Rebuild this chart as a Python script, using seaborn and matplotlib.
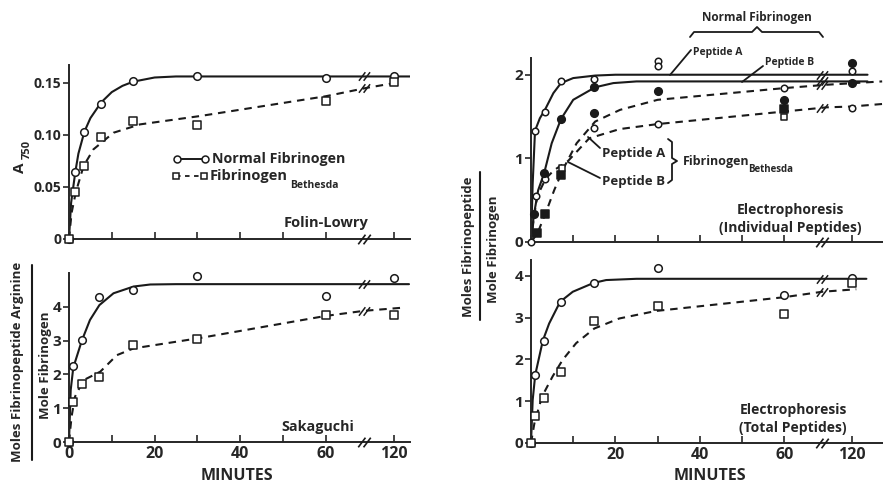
import numpy as np
import pandas as pd
import matplotlib
matplotlib.use("Agg")
import matplotlib.pyplot as plt
import seaborn as sns
from matplotlib.path import Path
from matplotlib.lines import Line2D

# ---------------- data (time in minutes) ----------------
# Top-left: Folin-Lowry (A750)
tl_t = [0, 1.5, 3.5, 7.5, 15, 30, 60, 120]
tl_normal = [0, 0.064, 0.103, 0.130, 0.152, 0.156, 0.155, 0.156]
tl_beth = [0, 0.045, 0.0705, 0.098, 0.113, 0.109, 0.132, 0.151]
tl_fit_normal_t = [0, 0.5, 1.5, 2.2, 3.6, 5, 7.5, 10, 12.5, 15, 20, 25, 30, 60, 134]
tl_fit_normal_y = [0, 0.035, 0.065, 0.082, 0.103, 0.116, 0.131, 0.141, 0.147, 0.151, 0.155, 0.156, 0.156, 0.156, 0.156]
tl_fit_beth_t = [0, 0.6, 1.6, 3.4, 5.7, 10.4, 16.6, 30.6, 60, 95.6, 122]
tl_fit_beth_y = [0, 0.025, 0.045, 0.070, 0.086, 0.102, 0.110, 0.118, 0.137, 0.145, 0.150]

# Bottom-left: Sakaguchi (moles arginine / mole fibrinogen)
bl_t = [0, 1, 3, 7, 15, 30, 60, 120]
bl_normal = [0, 2.25, 3.02, 4.30, 4.50, 4.91, 4.32, 4.86]
bl_beth = [0, 1.19, 1.71, 1.93, 2.87, 3.04, 3.76, 3.76]
bl_fit_normal_t = [0, 0.4, 1, 3, 4.9, 7.1, 10.4, 15.1, 19, 25, 60, 133]
bl_fit_normal_y = [0, 1.54, 2.2, 3.0, 3.61, 4.05, 4.40, 4.60, 4.66, 4.67, 4.67, 4.67]
bl_fit_beth_t = [0, 0.6, 1.4, 3.4, 7.3, 11.2, 15.1, 30.3, 60, 93.4, 126]
bl_fit_beth_y = [0, 0.75, 1.34, 1.83, 2.08, 2.57, 2.77, 3.07, 3.73, 3.88, 3.97]

# Top-right: electrophoresis, individual peptides
tr_open_t = [0, 1, 3.25, 7, 15, 30, 30, 120, 1.25, 3.25, 15, 30, 60, 120]
tr_open_y = [0, 1.33, 1.56, 1.92, 1.95, 2.17, 2.11, 2.04, 0.55, 0.75, 1.36, 1.41, 1.84, 1.60]
tr_fill_t = [0.75, 3.1, 7, 15, 15, 30, 60, 120, 120]
tr_fill_y = [0.33, 0.82, 1.47, 1.85, 1.54, 1.81, 1.70, 2.14, 1.90]
tr_fsq_t = [1.4, 3.3, 7, 60]
tr_fsq_y = [0.11, 0.33, 0.80, 1.59]
tr_osq_t = [7.3, 60]
tr_osq_y = [0.88, 1.49]
tr_fitA_t = [0, 0.4, 0.95, 2.1, 3.3, 5.3, 7.1, 10, 15.2, 20, 60, 134]
tr_fitA_y = [0, 0.70, 1.33, 1.48, 1.58, 1.78, 1.90, 1.96, 1.99, 2.0, 2.0, 2.0]
tr_fitB_t = [0, 0.7, 1.7, 3.1, 4.9, 7.1, 10, 15.2, 19.5, 25, 60, 134]
tr_fitB_y = [0, 0.33, 0.62, 0.82, 1.18, 1.47, 1.70, 1.85, 1.90, 1.92, 1.92, 1.92]
tr_fitBethB_t = [0, 1.5, 3.5, 5.5, 7.7, 10.8, 15.2, 21.1, 30, 60, 97.5, 147]
tr_fitBethB_y = [0, 0.10, 0.35, 0.62, 0.88, 1.18, 1.44, 1.58, 1.70, 1.84, 1.88, 1.92]
tr_fitBethA_t = [0, 0.7, 1.5, 3.5, 5.5, 8.8, 13.8, 21, 30, 60, 97.5, 120, 147]
tr_fitBethA_y = [0, 0.30, 0.55, 0.76, 0.86, 0.97, 1.24, 1.35, 1.41, 1.56, 1.61, 1.62, 1.65]

# Bottom-right: electrophoresis, total peptides
br_t = [0, 1, 3, 7, 15, 30, 60, 120]
br_normal = [0, 1.63, 2.45, 3.38, 3.83, 4.20, 3.54, 3.96]
br_beth = [0, 0.65, 1.07, 1.69, 2.93, 3.28, 3.09, 3.82]
br_fit_normal_t = [0, 0.4, 1.0, 2.8, 4.3, 6.9, 9.9, 14.8, 17.8, 25, 60, 133]
br_fit_normal_y = [0, 1.03, 1.63, 2.45, 2.86, 3.38, 3.62, 3.83, 3.90, 3.93, 3.93, 3.93]
br_fit_beth_t = [0, 0.8, 2.6, 5.1, 7.5, 10.7, 15, 20.9, 29.6, 60, 93.75, 124]
br_fit_beth_y = [0, 0.47, 1.11, 1.59, 1.99, 2.39, 2.74, 2.98, 3.16, 3.49, 3.62, 3.68]

x_major_t = [0, 20, 40, 60, 120]
x_major_labels = ["0", "20", "40", "60", "120"]
x_minor_t = [10, 30, 50]

# ---------------- style ----------------
sns.set_theme(style="ticks")
plt.rcParams["font.family"] = ["Open Sans", "DejaVu Sans"]
plt.rcParams["font.weight"] = "bold"
plt.rcParams["axes.linewidth"] = 1.4

W, H = 883, 487
fig = plt.figure(figsize=(W / 100, H / 100), dpi=100)
fig.patch.set_facecolor("white")


def fx(px):
    return px / W


def fy(py):
    return 1 - py / H


def to_u(t):
    t = np.asarray(t, float)
    return np.where(t <= 60, t, 60 + (t - 60) * 16.0 / 60.0)


BREAK_U = 69.0
brk = Path([(-1.3, -1), (0.2, 1), (-0.2, -1), (1.3, 1)],
           [Path.MOVETO, Path.LINETO, Path.MOVETO, Path.LINETO])
DASH = (0, (3.6, 2.8))


def panel(l, r, top, bot, xmax, ymax, yticks, ylabels, xlabels, ysize=10):
    ax = fig.add_axes([fx(l), fy(bot), (r - l) / W, (bot - top) / H])
    ax.set_facecolor("white")
    ax.set_xlim(0, xmax)
    ax.set_ylim(0, ymax)
    sns.despine(ax=ax)
    ax.set_xticks(to_u(x_major_t))
    ax.set_xticks(x_minor_t, minor=True)
    if xlabels is None:
        ax.set_xticklabels([])
    else:
        ax.set_xticklabels(xlabels)
    ax.set_yticks(yticks)
    ax.set_yticklabels(ylabels)
    ax.tick_params(axis="x", which="both", direction="in", length=5, width=1.2,
                   labelsize=11.5, pad=3)
    ax.tick_params(axis="y", direction="out", length=4, width=1.2, labelsize=ysize, pad=1.5)
    for lab in ax.get_xticklabels() + ax.get_yticklabels():
        lab.set_fontweight("bold")
    ax.plot([BREAK_U], [0], marker=brk, ls="none", mec="k", mew=1.2, ms=9, clip_on=False, zorder=5)
    return ax


def curve(ax, t, y, dashed=False):
    df = pd.DataFrame({"u": to_u(t), "v": y})
    sns.lineplot(data=df, x="u", y="v", ax=ax, color="k", lw=1.5, estimator=None,
                 sort=False, linestyle=DASH if dashed else "-")
    ax.set_xlabel("")
    ax.set_ylabel("")
    yb = np.interp(BREAK_U, to_u(t), y)
    ax.plot([BREAK_U], [yb], marker=brk, ls="none", mec="k", mew=1.1, ms=8, zorder=5)


def pts(ax, t, y, marker="o", filled=False, s=30):
    sns.scatterplot(x=to_u(t), y=y, ax=ax, marker=marker, s=s,
                    facecolor="k" if filled else "white", edgecolor="k",
                    linewidth=1.1, zorder=4, clip_on=False)


# ---------------- top-left ----------------
ax = panel(69, 410, 65, 239, 79.7, 0.167, [0, 0.05, 0.10, 0.15],
           ["0", "0.05", "0.10", "0.15"], None)
curve(ax, tl_fit_normal_t, tl_fit_normal_y)
curve(ax, tl_fit_beth_t, tl_fit_beth_y, dashed=True)
pts(ax, tl_t, tl_normal, "o")
pts(ax, tl_t, tl_beth, "s", s=26)

# legend drawn by hand
fig.add_artist(Line2D([fx(177), fx(205)], [fy(159)] * 2, color="k", lw=1.4, marker="o",
                      mfc="white", mec="k", ms=5, mew=1.1))
fig.add_artist(Line2D([fx(176), fx(204)], [fy(176)] * 2, color="k", lw=1.3, marker="s",
                      mfc="white", mec="k", ms=4.5, mew=1.1, linestyle=(0, (2.5, 2.5))))
fig.text(fx(212), fy(159), "Normal Fibrinogen", ha="left", va="center", fontsize=10.3)
fig.text(fx(210), fy(176), "Fibrinogen", ha="left", va="center", fontsize=10.5)
fig.text(fx(290), fy(185), "Bethesda", ha="left", va="center", fontsize=7.5)
fig.text(fx(326), fy(223), "Folin-Lowry", ha="center", va="center", fontsize=10.5)
fig.text(fx(20), fy(168), "A", rotation=90, ha="center", va="center", fontsize=11)
fig.text(fx(27), fy(149), "750", rotation=90, ha="center", va="center", fontsize=8)

# ---------------- bottom-left ----------------
ax = panel(69, 410, 273, 442, 79.7, 5.0, [0, 1, 2, 3, 4],
           ["0", "1", "2", "3", "4"], x_major_labels, ysize=11)
curve(ax, bl_fit_normal_t, bl_fit_normal_y)
curve(ax, bl_fit_beth_t, bl_fit_beth_y, dashed=True)
pts(ax, bl_t, bl_normal, "o")
pts(ax, bl_t, bl_beth, "s", s=26)
fig.text(fx(318), fy(427), "Sakaguchi", ha="center", va="center", fontsize=10.3)
fig.text(fx(237), fy(476), "MINUTES", ha="center", va="center", fontsize=11.5)
fig.text(fx(18), fy(362), "Moles Fibrinopeptide Arginine", rotation=90,
         ha="center", va="center", fontsize=9.5)
fig.add_artist(Line2D([fx(32), fx(32)], [fy(265), fy(460)], color="k", lw=1.5))
fig.text(fx(45), fy(365), "Mole Fibrinogen", rotation=90, ha="center", va="center", fontsize=9.5)

# ---------------- top-right ----------------
ax = panel(531, 883, 58, 242, 83.4, 2.2, [0, 1, 2], ["0", "1", "2"], None, ysize=11)
curve(ax, tr_fitA_t, tr_fitA_y)
curve(ax, tr_fitB_t, tr_fitB_y)
curve(ax, tr_fitBethB_t, tr_fitBethB_y, dashed=True)
curve(ax, tr_fitBethA_t, tr_fitBethA_y, dashed=True)
pts(ax, tr_open_t, tr_open_y, "o", s=22)
pts(ax, tr_fill_t, tr_fill_y, "o", filled=True, s=30)
pts(ax, tr_fsq_t, tr_fsq_y, "s", filled=True, s=26)
pts(ax, tr_osq_t, tr_osq_y, "s", s=22)

fig.text(fx(757), fy(17), "Normal Fibrinogen", ha="center", va="center", fontsize=8.5)
brace = [(690, 37), (694, 32), (752, 32), (757, 27), (762, 32), (819, 32), (823, 37)]
fig.add_artist(Line2D([fx(p[0]) for p in brace], [fy(p[1]) for p in brace], color="k", lw=1.3))
fig.text(fx(693), fy(52), "Peptide A", ha="left", va="center", fontsize=7.5)
fig.add_artist(Line2D([fx(691), fx(670)], [fy(50), fy(75)], color="k", lw=1.3))
fig.text(fx(765), fy(63), "Peptide B", ha="left", va="center", fontsize=7.5)
fig.add_artist(Line2D([fx(763), fx(742)], [fy(66), fy(82)], color="k", lw=1.3))
fig.text(fx(602), fy(154), "Peptide A", ha="left", va="center", fontsize=9.5)
fig.add_artist(Line2D([fx(600), fx(588)], [fy(148), fy(137)], color="k", lw=1.3))
fig.text(fx(602), fy(182), "Peptide B", ha="left", va="center", fontsize=9.5)
fig.add_artist(Line2D([fx(600), fx(568)], [fy(178), fy(162)], color="k", lw=1.3))
vbrace = [(668, 139), (672, 142), (672, 158), (677, 161), (672, 164), (672, 180), (668, 183)]
fig.add_artist(Line2D([fx(p[0]) for p in vbrace], [fy(p[1]) for p in vbrace], color="k", lw=1.3))
fig.text(fx(683), fy(162), "Fibrinogen", ha="left", va="center", fontsize=9)
fig.text(fx(748), fy(170), "Bethesda", ha="left", va="center", fontsize=7)
fig.text(fx(790), fy(210), "Electrophoresis", ha="center", va="center", fontsize=10)
fig.text(fx(790), fy(228), "(Individual Peptides)", ha="center", va="center", fontsize=10)

# ---------------- bottom-right ----------------
ax = panel(531, 883, 260, 443, 83.4, 4.38, [0, 1, 2, 3, 4],
           ["0", "1", "2", "3", "4"], [""] + x_major_labels[1:], ysize=11)
curve(ax, br_fit_normal_t, br_fit_normal_y)
curve(ax, br_fit_beth_t, br_fit_beth_y, dashed=True)
pts(ax, br_t, br_normal, "o")
pts(ax, br_t, br_beth, "s", s=26)
fig.text(fx(793), fy(410), "Electrophoresis", ha="center", va="center", fontsize=10)
fig.text(fx(793), fy(428), "(Total Peptides)", ha="center", va="center", fontsize=10)
fig.text(fx(710), fy(476), "MINUTES", ha="center", va="center", fontsize=11.5)

fig.text(fx(469), fy(247), "Moles Fibrinopeptide", rotation=90, ha="center", va="center", fontsize=9.5)
fig.add_artist(Line2D([fx(480), fx(480)], [fy(172), fy(320)], color="k", lw=1.5))
fig.text(fx(493), fy(249), "Mole Fibrinogen", rotation=90, ha="center", va="center", fontsize=9.5)

fig.savefig("out.png", dpi=100, facecolor="white")
